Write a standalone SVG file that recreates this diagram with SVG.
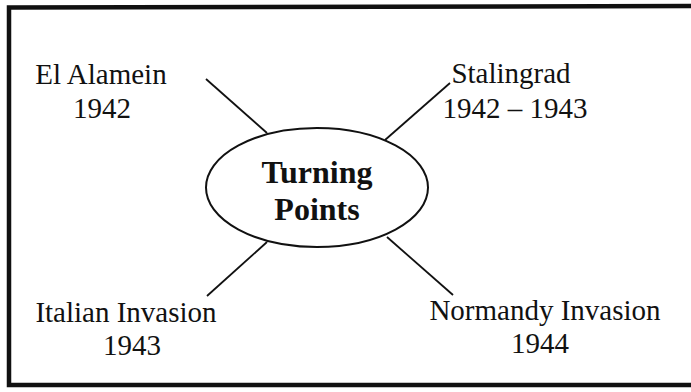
<svg xmlns="http://www.w3.org/2000/svg" width="691" height="392" viewBox="0 0 691 392">
<style>
.t{font-family:"Liberation Serif","Times New Roman",serif;font-size:29px;fill:#111;text-anchor:middle}
.b{font-family:"Liberation Serif","Times New Roman",serif;font-size:32px;font-weight:bold;fill:#111;text-anchor:middle}
.c{stroke:#111;stroke-width:1.8;fill:none}
</style>
<rect width="691" height="392" fill="#fff"/>
<g id="frame" stroke="#111" stroke-width="4.5" fill="none">
<path d="M691,6 L9,7.5 L9,385 L691,385"/>
</g>
<g id="connectors">
<line class="c" x1="206" y1="79" x2="267" y2="133"/>
<line class="c" x1="450" y1="83" x2="385" y2="140"/>
<line class="c" x1="267" y1="242" x2="207" y2="296"/>
<line class="c" x1="387" y1="237" x2="453" y2="295"/>
</g>
<g id="center">
<ellipse cx="317" cy="187.5" rx="111" ry="59.5" fill="#fff" stroke="#111" stroke-width="2"/>
<text class="b" x="317" y="183">Turning</text>
<text class="b" x="317" y="220">Points</text>
</g>
<g id="el-alamein">
<text class="t" x="101" y="84">El Alamein</text>
<text class="t" x="102" y="118">1942</text>
</g>
<g id="stalingrad">
<text class="t" x="511" y="83">Stalingrad</text>
<text class="t" x="515" y="118">1942 – 1943</text>
</g>
<g id="italian-invasion">
<text class="t" x="126" y="322">Italian Invasion</text>
<text class="t" x="132" y="355">1943</text>
</g>
<g id="normandy-invasion">
<text class="t" x="545" y="320">Normandy Invasion</text>
<text class="t" x="540" y="353">1944</text>
</g>
</svg>
